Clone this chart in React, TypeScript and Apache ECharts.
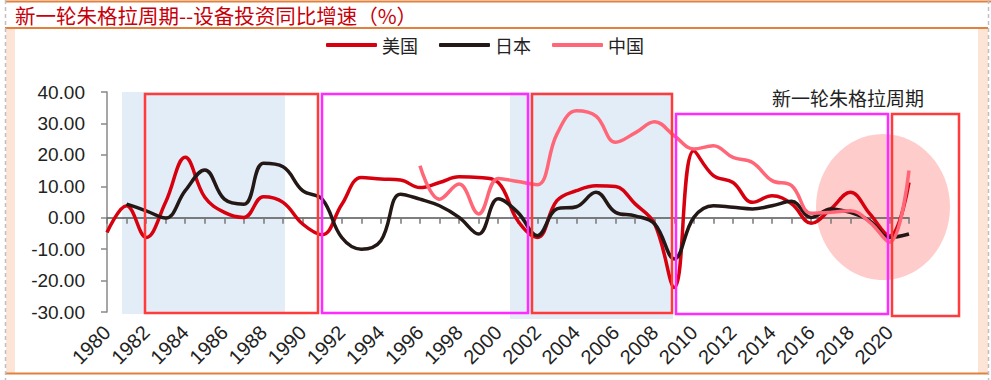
import React, { useEffect, useRef } from 'react';
import * as echarts from 'echarts';

const titleText = '新一轮朱格拉周期--设备投资同比增速（%）';
const annotationText = '新一轮朱格拉周期';
const seriesNames = ['美国', '日本', '中国'];
const seriesColors = ['#D7000F', '#231815', '#FF6677'];

const years = [
  '1980', '1981', '1982', '1983', '1984', '1985', '1986', '1987', '1988', '1989',
  '1990', '1991', '1992', '1993', '1994', '1995', '1996', '1997', '1998', '1999',
  '2000', '2001', '2002', '2003', '2004', '2005', '2006', '2007', '2008', '2009',
  '2010', '2011', '2012', '2013', '2014', '2015', '2016', '2017', '2018', '2019',
  '2020', '2021',
];

const usValues = [
  -4.7, 3.8, -6.3, 5.0, 19.2, 6.5, 1.7, 0.1, 6.7, 4.9,
  -2.0, -5.4, 4.2, 12.8, 12.3, 12.0, 9.6, 11.2, 13.0, 12.8,
  11.2, -1.0, -6.3, 5.4, 8.6, 10.2, 9.9, 4.4, -2.0, -22.2,
  21.3, 13.4, 11.2, 4.9, 7.0, 4.4, -1.8, 2.8, 8.1, 1.2,
  -5.8, 11.2,
];

const japanValues = [
  null, 4.3, 2.2, -0.1, 8.6, 15.2, 5.9, 4.3, 17.3, 16.2,
  8.6, 5.9, -6.3, -10.0, -7.3, 7.5, 5.9, 3.8, 0.1, -5.2,
  6.0, 1.7, -5.7, 2.8, 3.5, 8.1, 1.7, 0.6, -2.0, -13.1,
  0.1, 3.8, 3.3, 2.8, 3.8, 5.2, 0.1, 2.8, 1.7, -1.0,
  -6.3, -5.2,
];

const chinaValues = [
  null, null, null, null, null, null, null, null, null, null,
  null, null, null, null, null, null, 16.5, 5.9, 10.7, 1.2,
  12.5, 11.5, 10.5, 26.6, 34.0, 32.3, 24.0, 27.0, 30.5, 26.1,
  21.9, 22.9, 19.2, 17.6, 11.8, 10.2, 1.4, 1.7, 2.2, -1.5,
  -7.8, 15.0,
];

const yTicks = { min: -30, max: 40, interval: 10 };

export default function App() {
  const ref = useRef<HTMLDivElement>(null);

  useEffect(() => {
    const chart = echarts.init(ref.current!, null, { renderer: 'svg' });
    const values = [usValues, japanValues, chinaValues];
    const orange = '#E2813E';
    const red = '#FF3B3B';
    const magenta = '#FF2BFF';
    const rect = (x: number, y: number, w: number, h: number, color: string) => ({
      type: 'rect',
      z: 10,
      shape: { x, y, width: w, height: h },
      style: { fill: 'none', stroke: color, lineWidth: 2.5 },
    });

    chart.setOption({
      animation: false,
      backgroundColor: '#ffffff',
      title: {
        text: titleText,
        left: 15,
        top: 4,
        padding: 0,
        textStyle: {
          color: '#C8000A',
          fontSize: 20.5,
          lineHeight: 21,
          fontWeight: 'normal',
          fontFamily: 'Noto Sans CJK SC',
        },
      },
      legend: {
        data: seriesNames,
        left: 326,
        top: 36,
        padding: 0,
        itemWidth: 51,
        itemHeight: 4,
        itemGap: 21,
        icon: 'roundRect',
        textStyle: { fontSize: 18, color: '#222', fontFamily: 'Noto Sans CJK SC' },
      },
      grid: { left: 107, right: 82, top: 92, bottom: 68 },
      xAxis: [
        {
          type: 'category',
          data: years,
          boundaryGap: false,
          position: 'bottom',
          axisLine: { show: false, onZero: false },
          axisTick: { show: false },
          axisLabel: {
            interval: 1,
            rotate: 45,
            margin: 17,
            fontSize: 20,
            color: '#222',
            fontFamily: 'Liberation Sans',
          },
        },
        {
          type: 'category',
          data: years,
          boundaryGap: false,
          position: 'bottom',
          axisLine: { show: true, onZero: true, lineStyle: { color: '#555', width: 1.5 } },
          axisTick: { show: true, interval: 0, length: 6, lineStyle: { color: '#777', width: 1.5 } },
          axisLabel: { show: false },
        },
      ],
      yAxis: {
        type: 'value',
        min: yTicks.min,
        max: yTicks.max,
        interval: yTicks.interval,
        axisLine: { show: true, lineStyle: { color: '#888', width: 1.5 } },
        axisTick: { show: true, length: 6, lineStyle: { color: '#888', width: 1.5 } },
        splitLine: { show: false },
        axisLabel: {
          formatter: (v: number) => v.toFixed(2),
          fontSize: 19,
          margin: 22,
          color: '#222',
          fontFamily: 'Liberation Sans',
        },
      },
      series: seriesNames.map((name, i) => ({
        name,
        type: 'line',
        xAxisIndex: 0,
        data: values[i],
        smooth: 0.4,
        showSymbol: false,
        symbol: 'none',
        connectNulls: false,
        z: 5,
        itemStyle: { color: seriesColors[i] },
        lineStyle: { color: seriesColors[i], width: 3.5 },
      })),
      graphic: [
        // frame
        { type: 'rect', z: -20, shape: { x: 6, y: 29, width: 9, height: 344 }, style: { fill: '#FCE4D6' } },
        { type: 'rect', z: -20, shape: { x: 978, y: 29, width: 10, height: 344 }, style: { fill: '#FCE4D6' } },
        { type: 'line', z: -20, shape: { x1: 5, y1: 1.5, x2: 991, y2: 1.5 }, style: { stroke: orange, lineWidth: 2 } },
        { type: 'line', z: -20, shape: { x1: 5, y1: 28, x2: 988, y2: 28 }, style: { stroke: orange, lineWidth: 2 } },
        { type: 'line', z: -20, shape: { x1: 5, y1: 373.5, x2: 988, y2: 373.5 }, style: { stroke: orange, lineWidth: 2 } },
        { type: 'line', z: -20, shape: { x1: 5.5, y1: 0, x2: 5.5, y2: 380 }, style: { stroke: '#C0C0C0', lineWidth: 1.5, lineDash: [4, 3] } },
        { type: 'line', z: -20, shape: { x1: 988.5, y1: 0, x2: 988.5, y2: 380 }, style: { stroke: '#C0C0C0', lineWidth: 1.5, lineDash: [4, 3] } },
        // shading
        { type: 'rect', z: -10, shape: { x: 122, y: 92, width: 163, height: 222 }, style: { fill: '#E3EDF7' } },
        { type: 'rect', z: -10, shape: { x: 510, y: 92, width: 163, height: 227 }, style: { fill: '#E3EDF7' } },
        { type: 'ellipse', z: -9, shape: { cx: 883, cy: 207, rx: 67, ry: 73 }, style: { fill: '#FFCCCC' } },
        // boxes
        rect(145, 94, 173, 219, red),
        rect(322, 94, 206, 219, magenta),
        rect(532, 94, 140, 219, red),
        rect(676, 114, 212, 200, magenta),
        rect(892, 114, 67, 202, red),
        {
          type: 'text',
          z: 10,
          x: 772,
          y: 97,
          style: {
            text: annotationText,
            fontSize: 19,
            fill: '#222',
            verticalAlign: 'middle',
            fontFamily: 'Noto Sans CJK SC',
          },
        },
      ],
    });

    return () => chart.dispose();
  }, []);

  return (
    <div
      ref={ref}
      style={{ position: 'fixed', left: 0, top: 0, width: 991, height: 380, background: '#fff' }}
    />
  );
}
